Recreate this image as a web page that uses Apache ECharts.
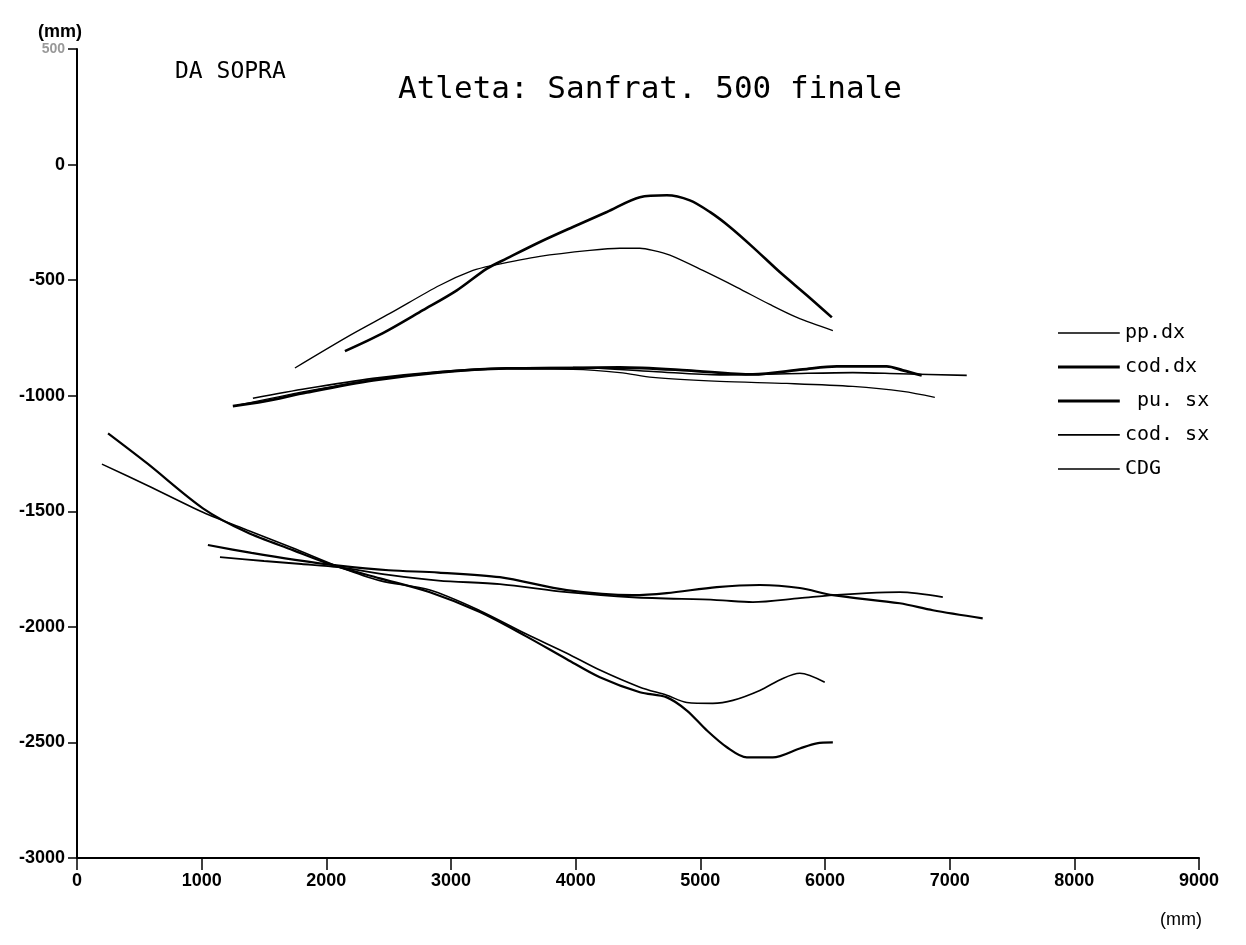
<!DOCTYPE html>
<html>
<head>
<meta charset="utf-8">
<script src="https://cdn.jsdelivr.net/npm/echarts@6/dist/echarts.min.js"></script>
<style>
html,body{margin:0;padding:0;background:#fff;}
#chart{width:1246px;height:945px;}
</style>
</head>
<body>
<div id="chart"></div>
<script>
// ---- Data (mm) ----
var legendNames = ['pp.dx', 'cod.dx', ' pu. sx', 'cod. sx', 'CDG'];
var xTicks = [0, 1000, 2000, 3000, 4000, 5000, 6000, 7000, 8000, 9000];
var yTicks = [500, 0, -500, -1000, -1500, -2000, -2500, -3000];

// upper group
var upperThin = [[1748,-880],[2189,-739],[2510,-644],[2911,-522],[3176,-458],[3336,-436],[3713,-397],[4114,-371],[4354,-362],[4515,-362],[4619,-371],[4756,-392],[5020,-458],[5293,-531],[5557,-605],[5774,-661],[6063,-718]];
var upperThick = [[2149,-807],[2454,-729],[2775,-630],[3047,-544],[3288,-450],[3448,-406],[3713,-335],[3978,-270],[4250,-205],[4515,-141],[4731,-133],[4916,-155],[5076,-205],[5237,-270],[5421,-357],[5637,-465],[5854,-565],[6055,-661]];

// middle band
var midM1 = [[1250,-1045],[1500,-1025],[1844,-986],[2374,-934],[2911,-899],[3448,-882],[3978,-880],[4354,-878],[4892,-890],[5421,-908],[5822,-886],[6095,-873],[6495,-873],[6624,-890],[6776,-912]];
var midM2 = [[1411,-1011],[1844,-969],[2374,-925],[2911,-895],[3448,-880],[3978,-878],[4619,-895],[5156,-910],[5694,-905],[6223,-900],[6600,-905],[7137,-912]];
var midM3 = [[1300,-1040],[1844,-980],[2374,-930],[2911,-900],[3448,-884],[3978,-886],[4354,-900],[4619,-921],[5156,-938],[5694,-947],[6223,-960],[6624,-981],[6881,-1007]];

// lower group
var lowD1 = [[249,-1163],[561,-1292],[1010,-1487],[1363,-1591],[1732,-1668],[2053,-1733],[2430,-1790],[2831,-1850],[3232,-1936],[3600,-2040],[3929,-2140],[4194,-2218],[4515,-2283],[4731,-2305],[4892,-2362],[5052,-2448],[5213,-2521],[5373,-2565],[5581,-2565],[5798,-2526],[5934,-2504],[6063,-2500]];
var lowD2 = [[200,-1296],[561,-1387],[1010,-1504],[1363,-1581],[1732,-1659],[2109,-1742],[2430,-1800],[2831,-1841],[3232,-1930],[3600,-2030],[3929,-2114],[4194,-2187],[4515,-2261],[4731,-2296],[4892,-2327],[5100,-2331],[5261,-2318],[5477,-2275],[5662,-2223],[5798,-2201],[5998,-2240]];
var lowC = [[1050,-1646],[1400,-1680],[1750,-1710],[2100,-1735],[2500,-1755],[2900,-1765],[3392,-1785],[3929,-1841],[4459,-1863],[4731,-1854],[5132,-1828],[5477,-1819],[5798,-1832],[6063,-1863],[6600,-1898],[6865,-1928],[7265,-1963]];
var lowD = [[1147,-1698],[1500,-1715],[1800,-1728],[2100,-1742],[2500,-1775],[2900,-1800],[3392,-1815],[3929,-1850],[4459,-1872],[5132,-1884],[5421,-1893],[5798,-1876],[6063,-1863],[6335,-1854],[6600,-1850],[6945,-1871]];

function mk(name, data, width) {
  return {
    name: name, type: 'line', data: data, smooth: 0.3,
    symbol: 'none', showSymbol: false,
    lineStyle: { color: '#000', width: width },
    itemStyle: { color: '#000' },
    silent: true, animation: false
  };
}
// legend icon: horizontal bar of thickness t inside a 14-high box
function bar(t) {
  var y0 = (14 - t) / 2;
  return 'path://M0,0h0.05v0.05h-0.05z M0,14h0.05v0.05h-0.05z M0,' + y0 + 'h62v' + t + 'h-62z';
}
var legendThick = [1.6, 3.2, 3.2, 1.8, 1.6];

var chart = echarts.init(document.getElementById('chart'), null, {renderer: 'canvas'});
var labelFont = { color: '#000', fontFamily: 'Liberation Sans', fontWeight: 'bold', fontSize: 18 };

chart.setOption({
  backgroundColor: '#fff',
  animation: false,
  grid: { left: 77, right: 47, top: 49, bottom: 87, containLabel: false },
  xAxis: {
    type: 'value', min: 0, max: 9000, interval: 1000,
    axisLine: { show: true, onZero: false, lineStyle: { color: '#000', width: 2 } },
    axisTick: { show: true, length: 12, lineStyle: { color: '#000', width: 1.5 } },
    axisLabel: Object.assign({ margin: 14, formatter: function (v) { return xTicks.indexOf(v) >= 0 ? String(v) : ''; } }, labelFont),
    splitLine: { show: false }
  },
  yAxis: {
    type: 'value', min: -3000, max: 500, interval: 500,
    axisLine: { show: true, onZero: false, lineStyle: { color: '#000', width: 2 } },
    axisTick: { show: true, length: 9, lineStyle: { color: '#000', width: 1.5 } },
    axisLabel: Object.assign({ margin: 12,
      formatter: function (v) { return yTicks.indexOf(v) >= 0 ? (v === 500 ? '{f|500}' : String(v)) : ''; },
      rich: { f: { color: '#999', fontFamily: 'Liberation Sans', fontSize: 14 } }
    }, labelFont),
    splitLine: { show: false }
  },
  legend: {
    orient: 'vertical', left: 1053, top: 318,
    data: legendNames.map(function (n, i) { return { name: n, icon: bar(legendThick[i]) }; }),
    itemWidth: 62, itemHeight: 14, itemGap: 14,
    itemStyle: { color: '#000' },
    textStyle: { color: '#000', fontFamily: 'DejaVu Sans Mono', fontSize: 20 },
    selectedMode: false
  },
  graphic: [
    { type: 'text', left: 38, top: 23, style: { text: '(mm)', fontFamily: 'Liberation Sans', fontWeight: 'bold', fontSize: 18, fill: '#000' } },
    { type: 'text', left: 175, top: 61, style: { text: 'DA SOPRA', fontFamily: 'DejaVu Sans Mono', fontSize: 23, fill: '#000' } },
    { type: 'text', left: 398, top: 74, style: { text: 'Atleta: Sanfrat. 500 finale', fontFamily: 'DejaVu Sans Mono', fontSize: 31, fill: '#000' } },
    { type: 'text', left: 1160, top: 911, style: { text: '(mm)', fontFamily: 'Liberation Sans', fontSize: 18, fill: '#000' } }
  ],
  series: [
    mk('pp.dx', upperThin, 1.3),
    mk('pp.dx', midM3, 1.3),
    mk('cod.dx', upperThick, 2.6),
    mk('cod.dx', midM1, 2.8),
    mk(' pu. sx', lowD1, 2.2),
    mk(' pu. sx', lowC, 2.2),
    mk('cod. sx', lowD2, 1.6),
    mk('cod. sx', lowD, 1.8),
    mk('CDG', midM2, 1.6)
  ]
});
</script>
</body>
</html>
